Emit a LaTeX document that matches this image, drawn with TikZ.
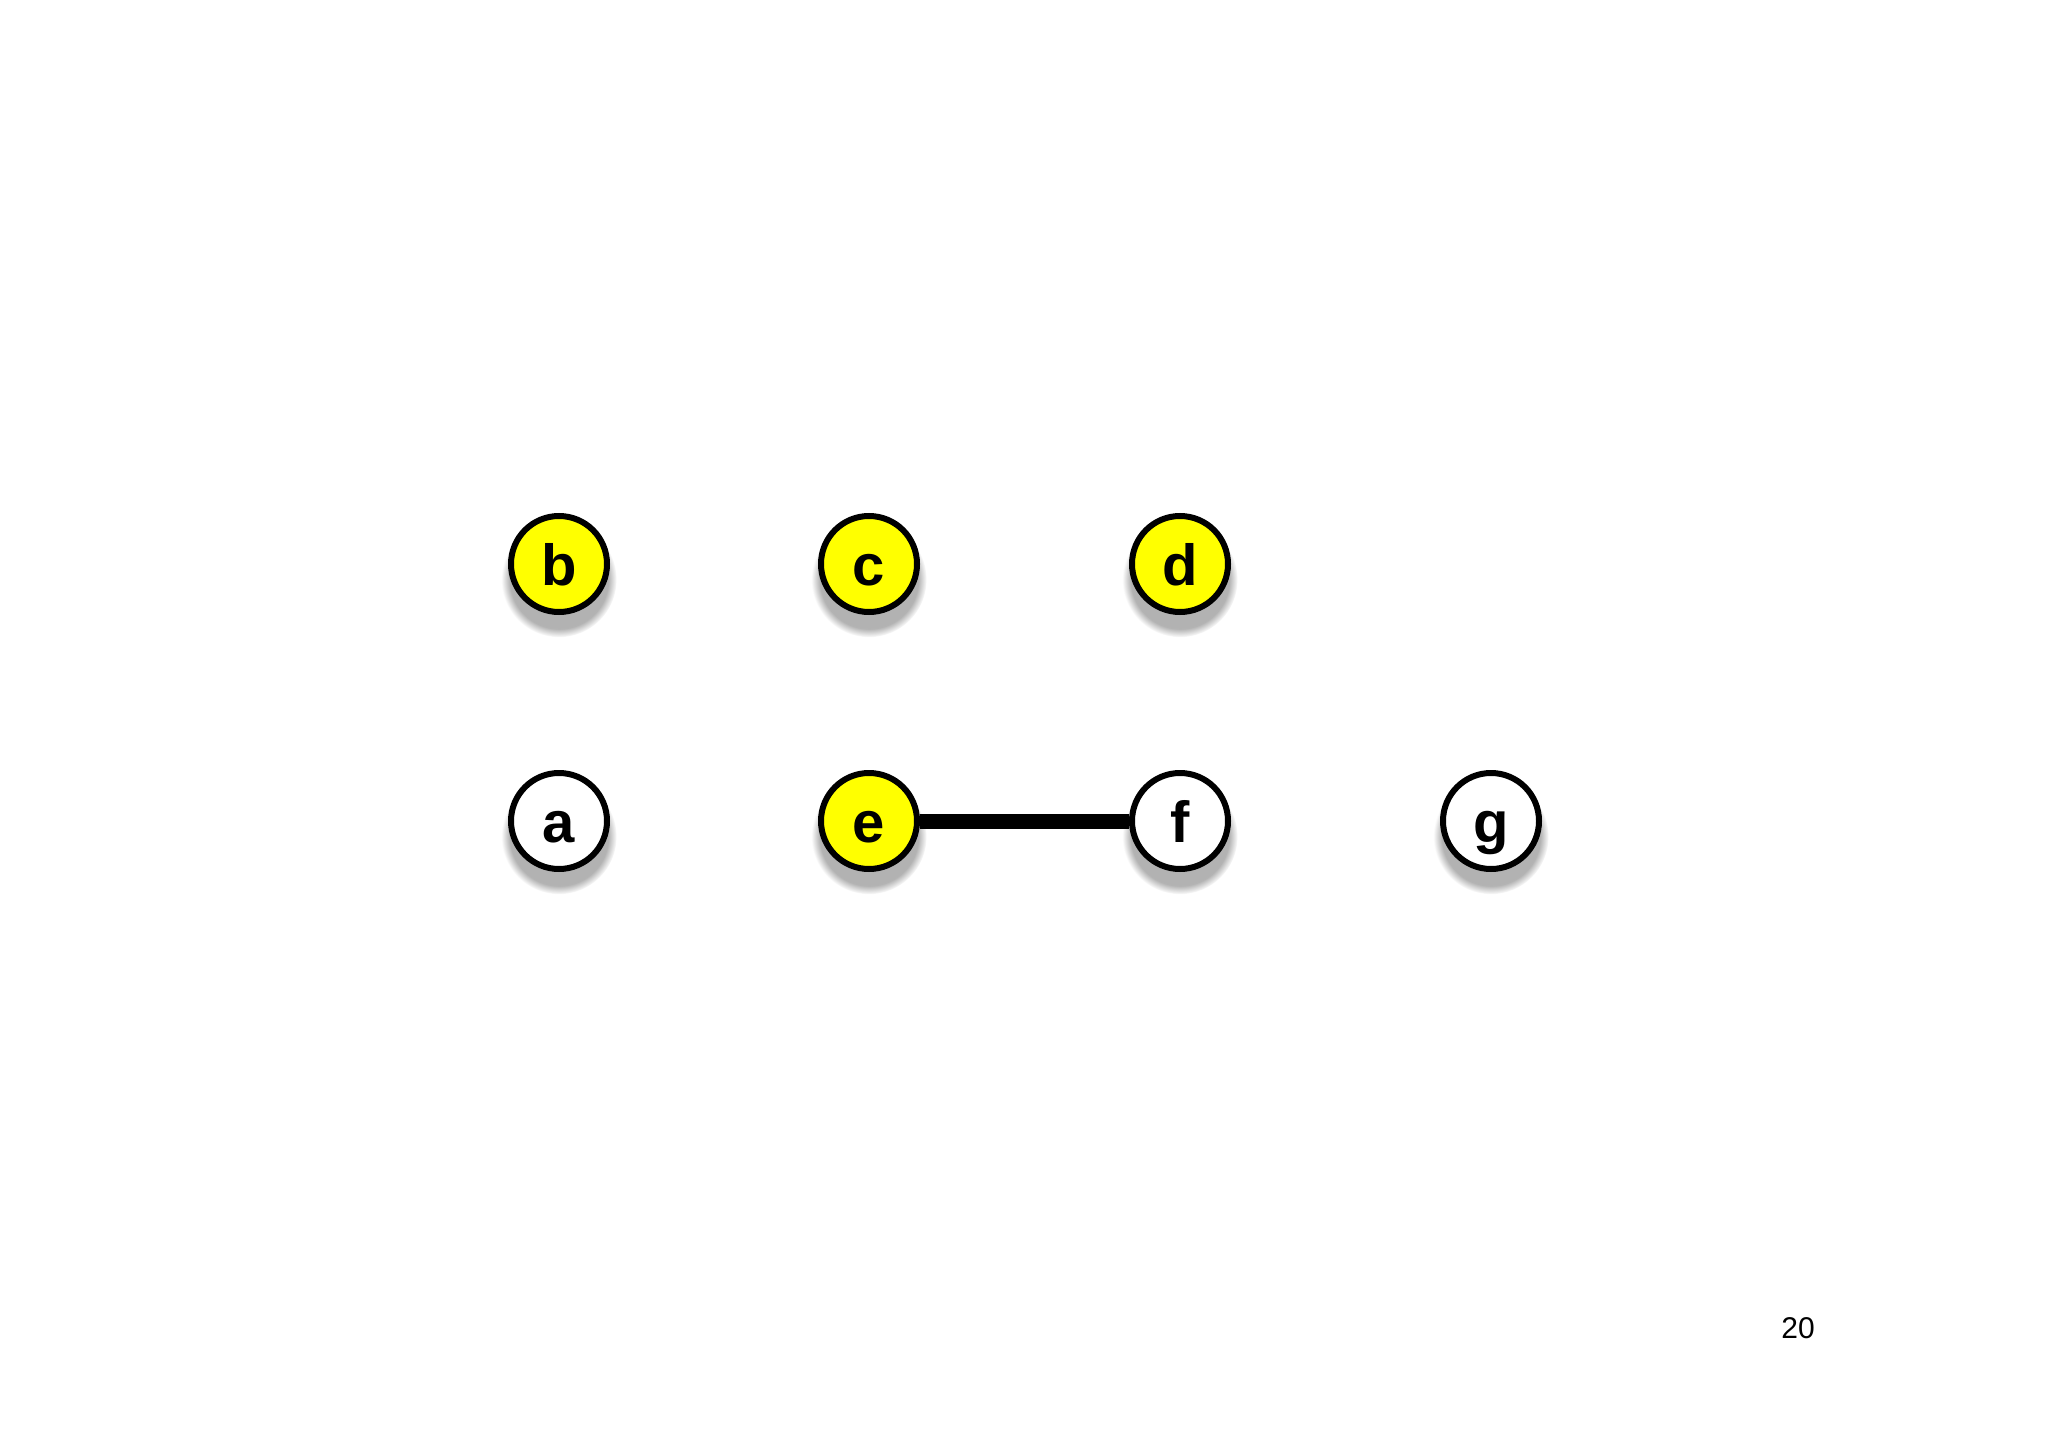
\documentclass[tikz,border=0pt]{standalone}
\usepackage{fontspec}
\setmainfont{Liberation Sans}
\usetikzlibrary{shadows}
\definecolor{nodeyellow}{RGB}{255,255,0}
\tikzset{
  vertex/.style={circle, draw=black, line width=6pt, minimum size=96pt, inner sep=0pt,
    text height=43pt, text depth=0pt,
    font=\fontsize{58}{58}\selectfont\bfseries,
    circular drop shadow={shadow xshift=0pt, shadow yshift=-13pt, shadow scale=1.2, opacity=0.6}},
  yv/.style={vertex, fill=nodeyellow},
  wv/.style={vertex, fill=white},
  edgeline/.style={line width=15pt, draw=black}
}
\begin{document}
\begin{tikzpicture}[x=1pt,y=-1pt]
\useasboundingbox (0,0) rectangle (2048,1447);
\fill[white] (0,0) rectangle (2048,1447);
\node[yv] (b) at (559,564) {b};
\node[yv] (c) at (869,564) {c};
\node[yv] (d) at (1180,564) {d};
\node[wv] (a) at (559,821) {a};
\node[yv] (e) at (869,821) {e};
\node[wv] (f) at (1180,821) {f};
\node[wv] (g) at (1491,821) {g};
\draw[edgeline] (e) -- (f);
\node[font=\fontsize{30}{30}\selectfont] (p) at (1798,1328) {20};
\end{tikzpicture}
\end{document}
